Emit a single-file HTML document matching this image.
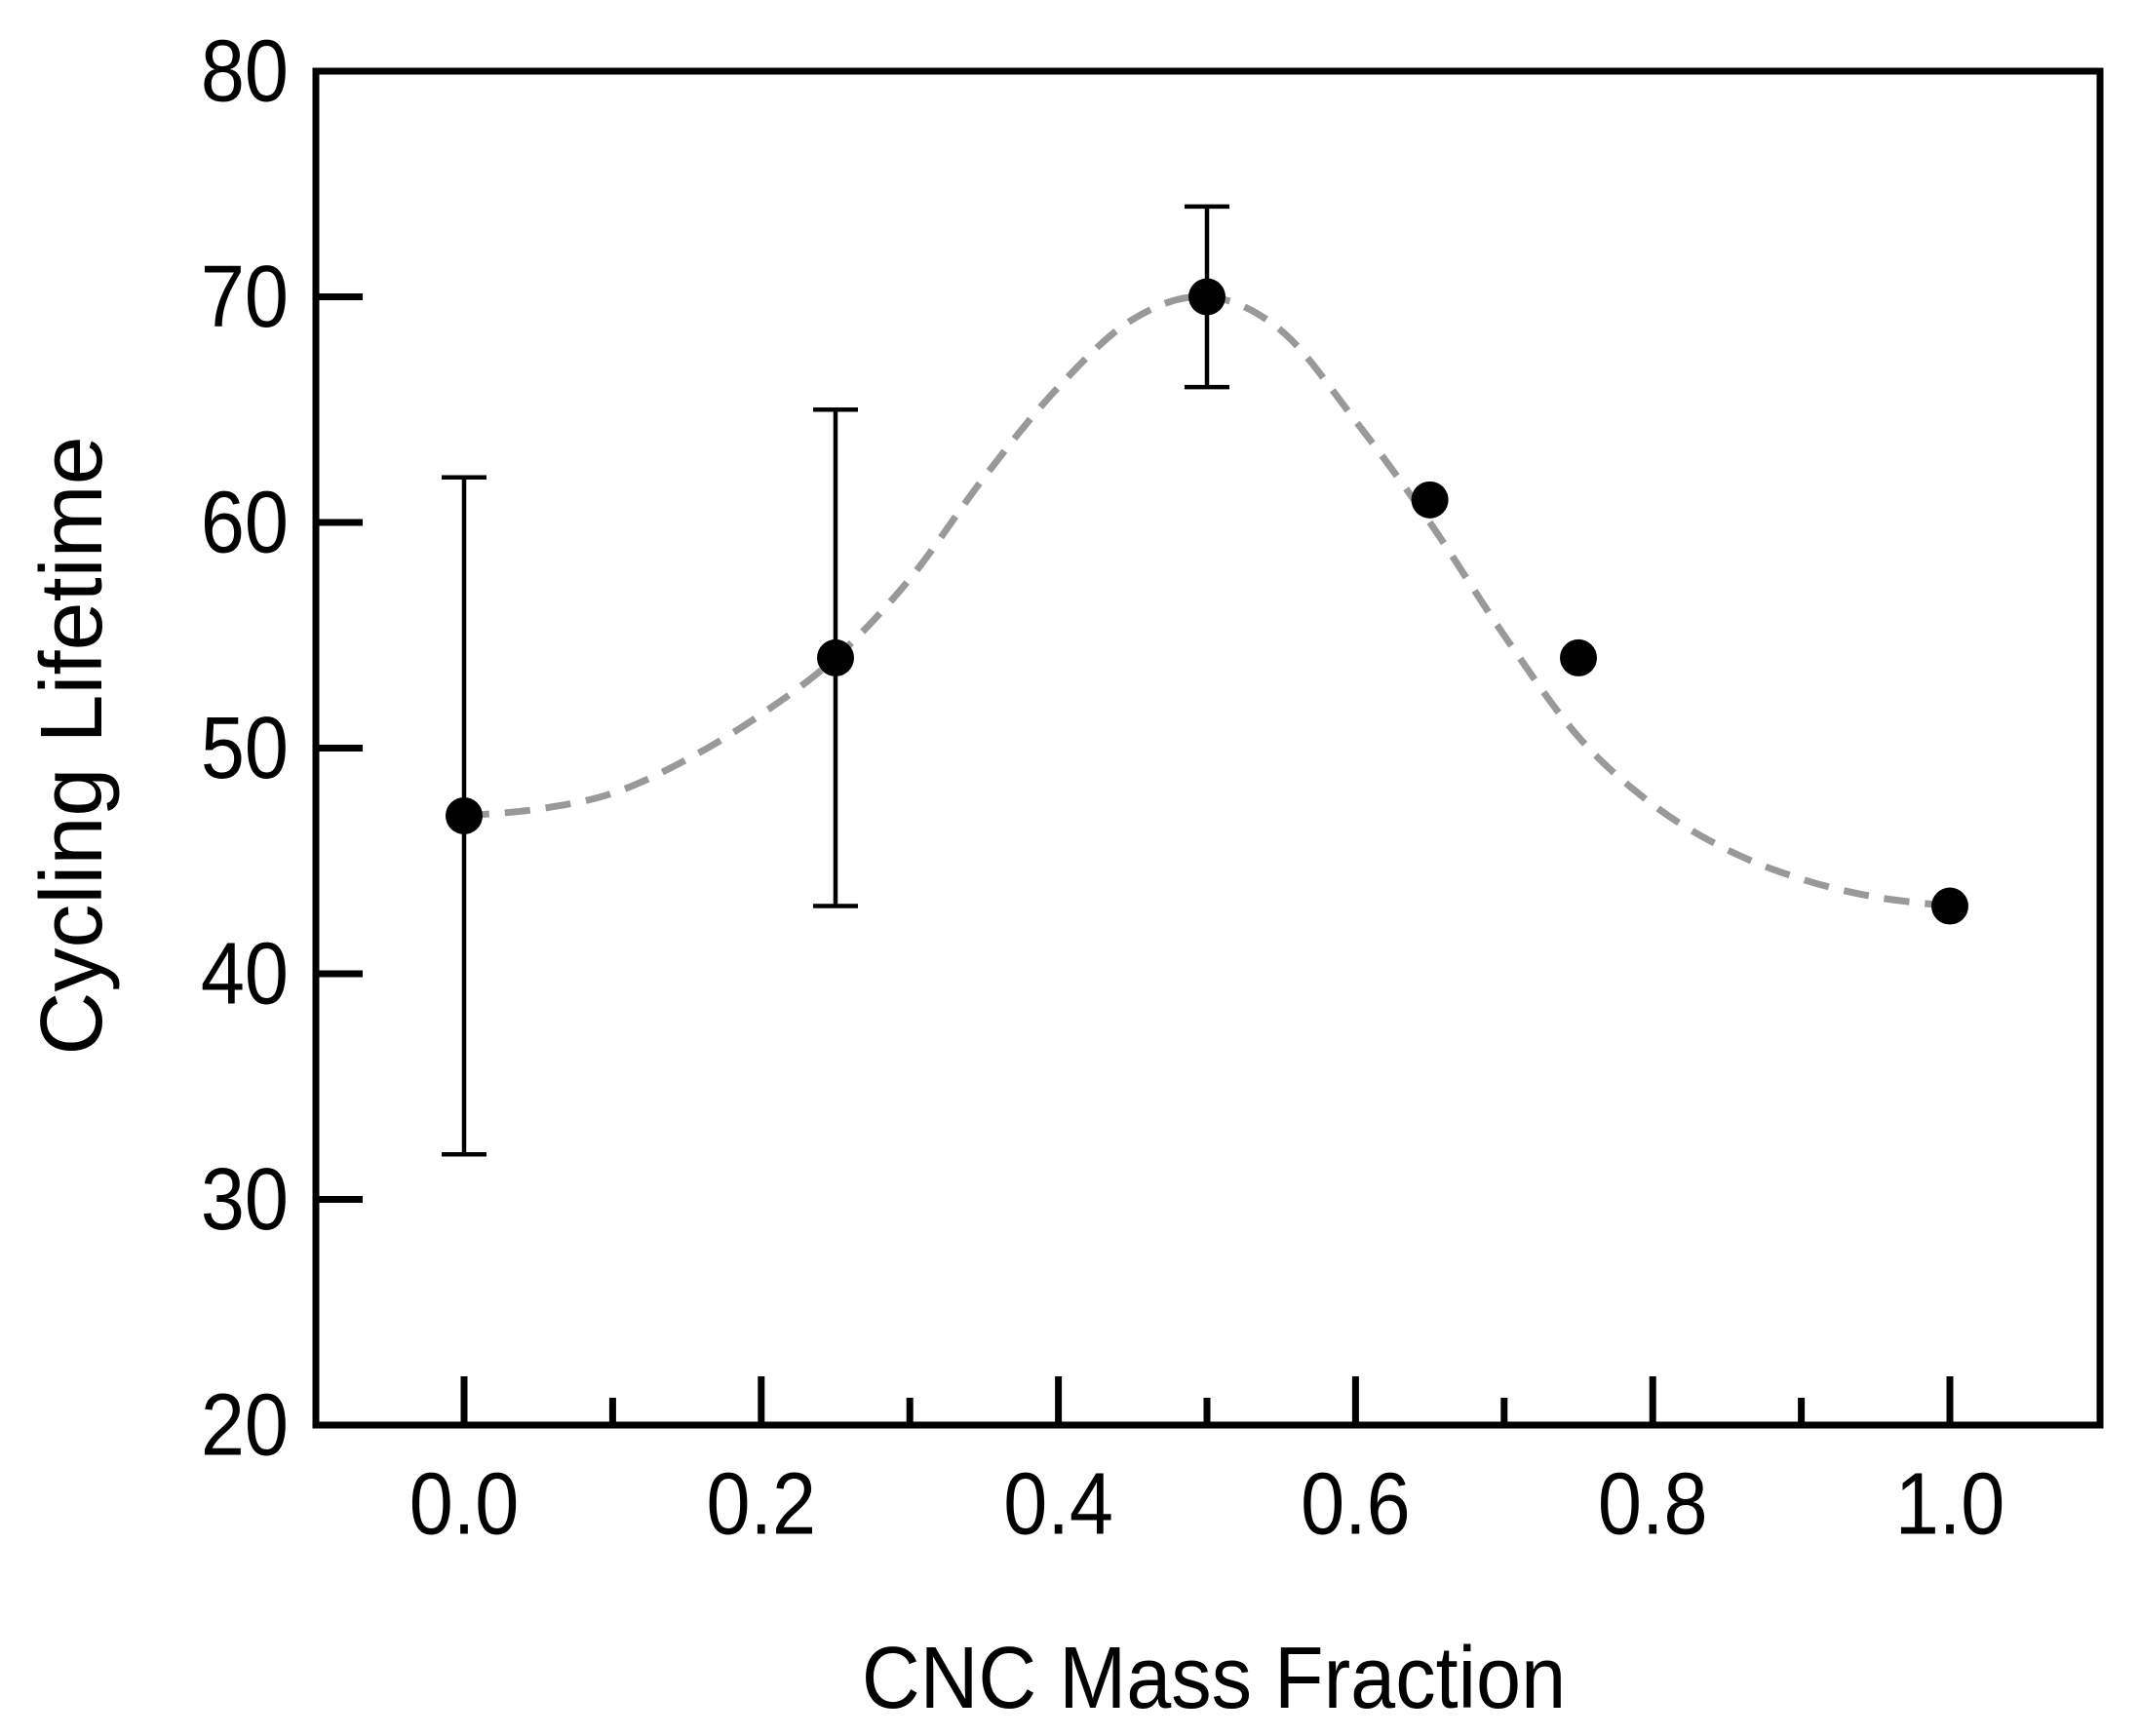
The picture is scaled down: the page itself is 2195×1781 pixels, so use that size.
<!DOCTYPE html>
<html><head><meta charset="utf-8"><style>
html,body{margin:0;padding:0;background:#fff;}
svg{display:block;font-family:"Liberation Sans",Arial,sans-serif;}
</style></head><body>
<svg id="chart" width="2195" height="1781" viewBox="0 0 2195 1781" xmlns="http://www.w3.org/2000/svg">
<g id="fit"></g>
<g id="marks"></g>
<g id="axes"></g>
<text x="1245" y="1722" font-size="90" text-anchor="middle" dominant-baseline="central" transform="translate(1245 0) scale(0.92 1) translate(-1245 0)">CNC Mass Fraction</text>
<text x="74" y="765" font-size="90" text-anchor="middle" dominant-baseline="central" transform="rotate(-90 74 765)">Cycling Lifetime</text>
</svg>
<script>
const xValues = [0, 0.25, 0.5, 0.65, 0.75, 1.0];
const yValues = [47, 54, 70, 61, 54, 43];
const errLow = [32, 43, 66, null, null, null];
const errHigh = [62, 65, 74, null, null, null];
const fitX = [0,0.05,0.1,0.15,0.2,0.25,0.3,0.35,0.4,0.45,0.5,0.55,0.6,0.65,0.7,0.75,0.8,0.85,0.9,0.95,1.0];
const fitY = [47,47.3,48,49.5,51.5,54,57.5,62,66,69,70,68.5,64.5,60,55,50.5,47.5,45.5,44.2,43.4,43];
const xTicks = ["0.0","0.2","0.4","0.6","0.8","1.0"];
const xMinorTicks = [0.1,0.3,0.5,0.7,0.9];
const yTicks = [20,30,40,50,60,70,80];

const NS = "http://www.w3.org/2000/svg";
const L = 324, R = 2154, T = 73, B = 1462;
const X = v => 476 + v * 1524;
const Y = v => B - (v - 20) * (B - T) / 60;
function mk(tag, attrs, parent) {
  const e = document.createElementNS(NS, tag);
  for (const k in attrs) e.setAttribute(k, attrs[k]);
  parent.appendChild(e);
  return e;
}
const fitG = document.getElementById('fit');
const marksG = document.getElementById('marks');
const axesG = document.getElementById('axes');

// fit curve (Catmull-Rom smoothing)
const pts = fitX.map((x, i) => [X(x), Y(fitY[i])]);
let d = 'M' + pts[0][0] + ' ' + pts[0][1];
for (let i = 0; i < pts.length - 1; i++) {
  const p0 = pts[Math.max(0, i - 1)], p1 = pts[i], p2 = pts[i + 1], p3 = pts[Math.min(pts.length - 1, i + 2)];
  const c1x = p1[0] + (p2[0] - p0[0]) / 6, c1y = p1[1] + (p2[1] - p0[1]) / 6;
  const c2x = p2[0] - (p3[0] - p1[0]) / 6, c2y = p2[1] - (p3[1] - p1[1]) / 6;
  d += ` C${c1x.toFixed(1)} ${c1y.toFixed(1)} ${c2x.toFixed(1)} ${c2y.toFixed(1)} ${p2[0].toFixed(1)} ${p2[1].toFixed(1)}`;
}
const fp = mk('path', {d: d, fill: 'none', stroke: '#999', 'stroke-width': 7, 'stroke-dasharray': '26 16'}, fitG);



// error bars and points
xValues.forEach((x, i) => {
  const cx = X(x);
  if (errLow[i] !== null) {
    const g = mk('g', {}, marksG);
    
    
    mk('line', {x1: cx, x2: cx, y1: Y(errLow[i]), y2: Y(errHigh[i]), stroke: '#000', 'stroke-width': 4.5}, g);
    mk('line', {x1: cx - 23, x2: cx + 23, y1: Y(errLow[i]), y2: Y(errLow[i]), stroke: '#000', 'stroke-width': 4.5}, g);
    mk('line', {x1: cx - 23, x2: cx + 23, y1: Y(errHigh[i]), y2: Y(errHigh[i]), stroke: '#000', 'stroke-width': 4.5}, g);
  }
  const c = mk('circle', {cx: cx, cy: Y(yValues[i]), r: 19, fill: '#000'}, marksG);
  
  
});

// frame
const fr = mk('rect', {x: L, y: T, width: R - L, height: B - T, fill: 'none', stroke: '#000', 'stroke-width': 7}, axesG);



// x ticks
xTicks.forEach(t => {
  const v = parseFloat(t);
  const tl = mk('line', {x1: X(v), x2: X(v), y1: B, y2: B - 50, stroke: '#000', 'stroke-width': 7}, axesG);
  
  
  const tx = mk('text', {x: X(v), y: 1543, 'font-size': 90, 'text-anchor': 'middle', 'dominant-baseline': 'central', transform: `translate(${X(v)} 0) scale(0.9 1) translate(${-X(v)} 0)`}, axesG);
  tx.textContent = t;
  
  
});
xMinorTicks.forEach(v => {
  const tl = mk('line', {x1: X(v), x2: X(v), y1: B, y2: B - 28, stroke: '#000', 'stroke-width': 7}, axesG);
  
  
});
// y ticks
yTicks.forEach(v => {
  if (v > 20 && v < 80) {
    const tl = mk('line', {x1: L, x2: L + 48, y1: Y(v), y2: Y(v), stroke: '#000', 'stroke-width': 7}, axesG);
    
    
  }
  const tx = mk('text', {x: 296, y: Y(v), 'font-size': 90, 'text-anchor': 'end', 'dominant-baseline': 'central', transform: `translate(296 0) scale(0.9 1) translate(-296 0)`}, axesG);
  tx.textContent = v;
  
  
});
</script>
</body></html>
